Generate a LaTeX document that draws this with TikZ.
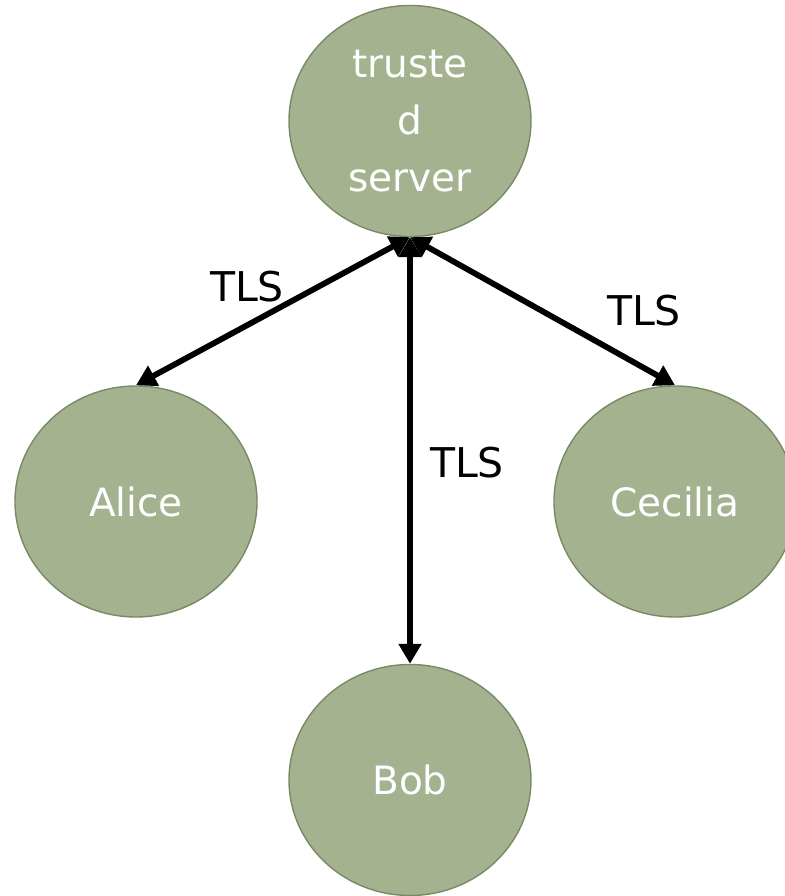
\documentclass[tikz,border=0pt]{standalone}
\usepackage{fontspec}
\setmainfont{DejaVu Sans}
\usetikzlibrary{shapes.geometric,arrows.meta}
\definecolor{nodefill}{HTML}{A4B28F}
\definecolor{nodeedge}{HTML}{788A63}
\begin{document}
\begin{tikzpicture}[x=1pt,y=1pt,
  party/.style={ellipse,draw=nodeedge,fill=nodefill,line width=1.4pt,
    minimum width=242pt,minimum height=231pt,inner sep=0pt,
    text=white,align=center,font=\fontsize{39}{57}\selectfont},
  tls/.style={text=black,inner sep=0pt,font=\fontsize{41}{50}\selectfont},
  link/.style={line width=5.8pt,{Triangle[length=20pt,width=22pt]}-{Triangle[length=20pt,width=22pt]}}]
  \useasboundingbox (0,0) rectangle (784,896);
  % the server and its three clients
  \node[party] (srv) at (410,775) {truste\\d\\server};
  \node[party] (alice) at (136,394.5) {Alice};
  \node[party] (cecilia) at (675,394.5) {Cecilia};
  \node[party] (bob) at (410,116) {Bob};
  % secure channels
  \draw[link] (srv.south) -- (alice.north);
  \draw[link] (srv.south) -- (cecilia.north);
  \draw[link] (srv.south) -- (bob.north);
  % channel labels
  \node[tls] (tlsa) at (247,609) {TLS};
  \node[tls] (tlsc) at (644,585) {TLS};
  \node[tls] (tlsb) at (467,433) {TLS};
\end{tikzpicture}
\end{document}
